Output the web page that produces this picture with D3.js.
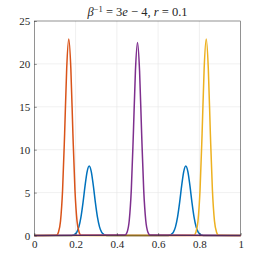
<!DOCTYPE html>
<html>
<head>
<meta charset="utf-8">
<script src="https://cdn.jsdelivr.net/npm/d3@7"></script>
<style>
  body { margin: 0; background: #fff; }
  svg { display: block; }
  svg text { fill: #262626; }
</style>
</head>
<body>
<div id="chart"></div>
<script>
// values
const xTicks = [0, 0.2, 0.4, 0.6, 0.8, 1];
const yTicks = [0, 5, 10, 15, 20, 25];

// blue: two peaks at ~0.266 and ~0.734
const blueX = [0, 0.176, 0.186, 0.196, 0.206, 0.216, 0.226, 0.236, 0.246, 0.256, 0.266, 0.276, 0.286, 0.296, 0.306, 0.316, 0.326, 0.336, 0.346, 0.356,
               0.644, 0.654, 0.664, 0.674, 0.684, 0.694, 0.704, 0.714, 0.724, 0.734, 0.744, 0.754, 0.764, 0.774, 0.784, 0.794, 0.804, 0.814, 0.824, 1];
const blueY = [0, 0.01, 0.04, 0.14, 0.40, 1.01, 2.14, 3.83, 5.81, 7.45, 8.1, 7.45, 5.81, 3.83, 2.14, 1.01, 0.40, 0.14, 0.04, 0.01,
               0.01, 0.04, 0.14, 0.40, 1.01, 2.14, 3.83, 5.81, 7.45, 8.1, 7.45, 5.81, 3.83, 2.14, 1.01, 0.40, 0.14, 0.04, 0.01, 0];

// orange: peak at ~0.167
const orangeX = [0, 0.107, 0.117, 0.127, 0.137, 0.147, 0.157, 0.167, 0.177, 0.187, 0.197, 0.207, 0.217, 0.227, 1];
const orangeY = [0, 0.02, 0.39, 1.68, 5.27, 11.9, 19.5, 22.9, 19.5, 11.9, 5.27, 1.68, 0.39, 0.02, 0];

// yellow: peak at ~0.833
const yellowX = [0, 0.773, 0.783, 0.793, 0.803, 0.813, 0.823, 0.833, 0.843, 0.853, 0.863, 0.873, 0.883, 0.893, 1];
const yellowY = [0, 0.02, 0.39, 1.68, 5.27, 11.9, 19.5, 22.9, 19.5, 11.9, 5.27, 1.68, 0.39, 0.02, 0];

// purple: peak at 0.5
const purpleX = [0, 0.44, 0.45, 0.46, 0.47, 0.48, 0.49, 0.5, 0.51, 0.52, 0.53, 0.54, 0.55, 0.56, 1];
const purpleY = [0, 0.07, 0.42, 1.75, 5.35, 11.9, 19.2, 22.5, 19.2, 11.9, 5.35, 1.75, 0.42, 0.07, 0];

const seriesColors = ["#0072BD", "#D95319", "#EDB120", "#7E2F8E"];

const W = 266, H = 265;
const margin = {top: 21, right: 25.3, bottom: 29.5, left: 34.3};
const serif = "Liberation Serif";

const series = [
  d3.zip(blueX, blueY),
  d3.zip(orangeX, orangeY),
  d3.zip(yellowX, yellowY),
  d3.zip(purpleX, purpleY)
];

const svg = d3.select("#chart").append("svg")
  .attr("width", W).attr("height", H);

const sx = d3.scaleLinear().domain([0, 1]).range([margin.left, W - margin.right]);
const sy = d3.scaleLinear().domain([0, 25]).range([H - margin.bottom, margin.top]);

// grid
svg.append("g").selectAll("line")
  .data(xTicks.slice(1, -1)).enter().append("line")
  .attr("x1", d => sx(d)).attr("x2", d => sx(d))
  .attr("y1", sy(0)).attr("y2", sy(25))
  .attr("stroke", "#e6e6e6").attr("stroke-width", 0.6);
svg.append("g").selectAll("line")
  .data(yTicks.slice(1, -1)).enter().append("line")
  .attr("y1", d => sy(d)).attr("y2", d => sy(d))
  .attr("x1", sx(0)).attr("x2", sx(1))
  .attr("stroke", "#e6e6e6").attr("stroke-width", 0.6);

// curves
const line = d3.line()
  .x(d => sx(d[0])).y(d => sy(d[1]))
  .curve(d3.curveMonotoneX);

svg.append("g").selectAll("path")
  .data(series).enter().append("path")
  .attr("d", line)
  .attr("fill", "none")
  .attr("stroke", (d, i) => seriesColors[i])
  .attr("stroke-width", 1.5)
  .attr("stroke-linejoin", "round");

// axes (ticks inside, box on)
const xAxis = d3.axisBottom(sx).tickValues(xTicks).tickSize(-2.5).tickPadding(5)
  .tickFormat(d3.format("~g"));
const yAxis = d3.axisLeft(sy).tickValues(yTicks).tickSize(-2.5).tickPadding(4);

const gx = svg.append("g").attr("transform", `translate(0,${sy(0)})`).call(xAxis);
const gy = svg.append("g").attr("transform", `translate(${sx(0)},0)`).call(yAxis);
[gx, gy].forEach(g => {
  g.attr("font-family", serif);
  g.select(".domain").remove();
  g.selectAll(".tick line").attr("stroke", "#262626").attr("stroke-width", 0.5);
  g.selectAll(".tick text").attr("font-size", 11).attr("fill", "#262626");
});

svg.append("rect")
  .attr("x", sx(0)).attr("y", sy(25))
  .attr("width", sx(1) - sx(0)).attr("height", sy(0) - sy(25))
  .attr("fill", "none").attr("stroke", "#262626").attr("stroke-width", 0.5);

// title
const title = svg.append("text")
  .attr("font-family", serif)
  .attr("x", (sx(0) + sx(1)) / 2).attr("y", 16)
  .attr("text-anchor", "middle").attr("font-size", 12.5);
title.append("tspan").attr("font-style", "italic").text("β");
title.append("tspan").attr("font-size", 8.5).attr("dy", -4.5).text("−1");
title.append("tspan").attr("dy", 4.5).text(" = 3");
title.append("tspan").attr("font-style", "italic").text("e");
title.append("tspan").text(" − 4,  ");
title.append("tspan").attr("font-style", "italic").text("r");
title.append("tspan").text(" = 0.1");
</script>
</body>
</html>
